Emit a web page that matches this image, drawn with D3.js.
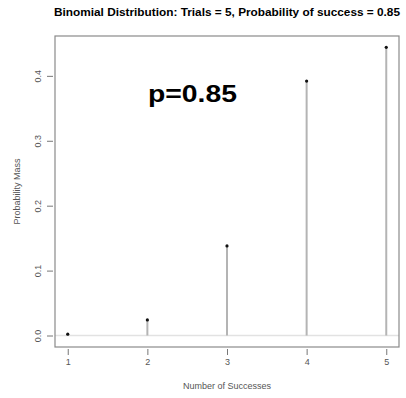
<!DOCTYPE html>
<html>
<head>
<meta charset="utf-8">
<script src="https://cdn.jsdelivr.net/npm/d3@7"></script>
<style>
  body { margin: 0; background: #fff; }
  text { font-family: "Liberation Sans", Arial, sans-serif; }
</style>
</head>
<body>
<svg id="chart"></svg>
<script>
// values
var successes = [1, 2, 3, 4, 5];
var probMass = [0.002, 0.024, 0.138, 0.392, 0.444];
var yTicks = [0, 0.1, 0.2, 0.3, 0.4];

const W = 406, H = 398;
var box = { left: 55, right: 399, top: 36, bottom: 347 };

var svg = d3.select("#chart").attr("width", W).attr("height", H);

// R style scales: 4% padding around the data range
var xScale = d3.scaleLinear().domain([0.84, 5.16]).range([box.left, box.right]);
var yScale = d3.scaleLinear().domain([-0.0177, 0.4614]).range([box.bottom, box.top]);

// baseline at zero
svg.append("line")
    .attr("x1", box.left).attr("x2", box.right)
    .attr("y1", yScale(0)).attr("y2", yScale(0))
    .attr("stroke", "#e2e2e2").attr("stroke-width", 1.5);

// spikes
svg.selectAll(".spike")
    .data(successes)
    .enter()
    .append("line")
    .attr("class", "spike")
    .attr("x1", d => xScale(d)).attr("x2", d => xScale(d))
    .attr("y1", yScale(0))
    .attr("y2", (d, i) => yScale(probMass[i]))
    .attr("stroke", "#b4b4b4").attr("stroke-width", 2);

svg.selectAll(".dot")
    .data(successes)
    .enter()
    .append("circle")
    .attr("class", "dot")
    .attr("cx", d => xScale(d))
    .attr("cy", (d, i) => yScale(probMass[i]))
    .attr("r", 1.6)
    .attr("fill", "#111");

// box
svg.append("rect")
    .attr("x", box.left).attr("y", box.top)
    .attr("width", box.right - box.left).attr("height", box.bottom - box.top)
    .attr("fill", "none").attr("stroke", "#8a8a8a").attr("stroke-width", 1.2);

// axes
var xAxis = d3.axisBottom(xScale).tickValues(successes).tickSize(6).tickPadding(4).tickFormat(d3.format("d"));
var gx = svg.append("g")
    .attr("transform", "translate(0," + (box.bottom + 2) + ")")
    .call(xAxis);
gx.select(".domain").remove();

var yAxis = d3.axisLeft(yScale).tickValues(yTicks).tickSize(6).tickFormat(d3.format(".1f"));
var gy = svg.append("g")
    .attr("transform", "translate(" + (box.left - 2) + ",0)")
    .call(yAxis);
gy.select(".domain").remove();
gy.selectAll("text")
    .attr("x", 0).attr("dy", 0)
    .attr("transform", "translate(-12,0) rotate(-90)")
    .attr("text-anchor", "middle");

svg.selectAll(".tick line").attr("stroke", "#777");
svg.selectAll(".tick text").attr("fill", "#555").style("font-size", "9px");

// titles
svg.append("text")
    .attr("x", (box.left + box.right) / 2).attr("y", 16)
    .attr("text-anchor", "middle")
    .style("font-size", "10.5px").style("font-weight", "bold")
    .attr("textLength", 346).attr("lengthAdjust", "spacingAndGlyphs")
    .text("Binomial Distribution: Trials = 5, Probability of success = 0.85");

svg.append("text")
    .attr("x", (box.left + box.right) / 2).attr("y", 389)
    .attr("text-anchor", "middle")
    .attr("fill", "#555")
    .style("font-size", "9px")
    .text("Number of Successes");

svg.append("text")
    .attr("transform", "translate(20," + ((box.top + box.bottom) / 2) + ") rotate(-90)")
    .attr("text-anchor", "middle")
    .attr("fill", "#555")
    .style("font-size", "9px")
    .text("Probability Mass");

svg.append("text")
    .attr("x", 148).attr("y", 102)
    .style("font-size", "23px").style("font-weight", "bold")
    .attr("textLength", 89).attr("lengthAdjust", "spacingAndGlyphs")
    .text("p=0.85");
</script>
</body>
</html>
